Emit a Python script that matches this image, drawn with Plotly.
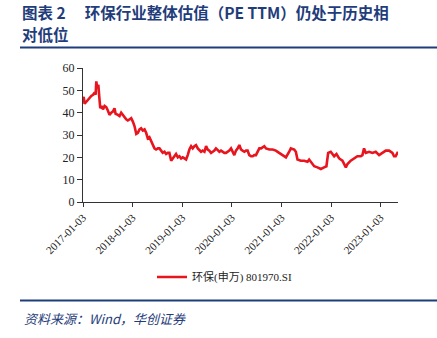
import plotly.graph_objects as go

dates = [
    "2017-01-03", "2017-01-08", "2017-01-15", "2017-01-28", "2017-02-09", "2017-02-21", "2017-03-05",
    "2017-03-18", "2017-03-30", "2017-04-06", "2017-04-11", "2017-04-18", "2017-04-26", "2017-05-03",
    "2017-05-10", "2017-05-20", "2017-05-30", "2017-06-11", "2017-06-23", "2017-07-05", "2017-07-17",
    "2017-07-30", "2017-08-11", "2017-08-23", "2017-08-31", "2017-09-17", "2017-09-29", "2017-10-11",
    "2017-10-23", "2017-11-05", "2017-11-17", "2017-11-29", "2017-12-11", "2017-12-24", "2018-01-05",
    "2018-01-17", "2018-01-30", "2018-02-11", "2018-02-23", "2018-03-07", "2018-03-19", "2018-04-01",
    "2018-04-13", "2018-04-25", "2018-05-07", "2018-05-20", "2018-06-01", "2018-06-13", "2018-06-25",
    "2018-07-08", "2018-07-20", "2018-08-01", "2018-08-13", "2018-08-26", "2018-09-07", "2018-09-19",
    "2018-10-01", "2018-10-14", "2018-10-26", "2018-11-07", "2018-11-19", "2018-12-02", "2018-12-14",
    "2018-12-26", "2019-01-07", "2019-01-20", "2019-02-01", "2019-02-13", "2019-02-25", "2019-03-10",
    "2019-03-22", "2019-04-03", "2019-04-15", "2019-04-28", "2019-05-10", "2019-05-22", "2019-06-03",
    "2019-06-16", "2019-06-28", "2019-07-10", "2019-07-22", "2019-08-04", "2019-08-16", "2019-08-28",
    "2019-09-09", "2019-09-22", "2019-10-04", "2019-10-16", "2019-10-28", "2019-11-10", "2019-11-22",
    "2019-12-04", "2019-12-16", "2019-12-29", "2020-01-10", "2020-01-22", "2020-02-03", "2020-02-16",
    "2020-02-28", "2020-03-11", "2020-03-23", "2020-04-05", "2020-04-17", "2020-04-29", "2020-05-11",
    "2020-05-24", "2020-06-05", "2020-06-17", "2020-06-29", "2020-07-12", "2020-07-24", "2020-08-06",
    "2020-08-30", "2020-09-11", "2020-10-06", "2020-10-30", "2020-11-23", "2020-12-17", "2021-01-11",
    "2021-02-05", "2021-03-01", "2021-03-13", "2021-04-07", "2021-04-19", "2021-05-01", "2021-05-26",
    "2021-06-19", "2021-07-14", "2021-07-26", "2021-08-15", "2021-09-01", "2021-09-25", "2021-10-20",
    "2021-11-13", "2021-11-30", "2021-12-13", "2022-01-01", "2022-01-26", "2022-02-12", "2022-03-04",
    "2022-03-28", "2022-04-22", "2022-05-04", "2022-05-28", "2022-06-22", "2022-07-16", "2022-08-10",
    "2022-08-22", "2022-09-03", "2022-09-16", "2022-10-10", "2022-11-04", "2022-11-28", "2022-12-23",
    "2023-01-16", "2023-02-10", "2023-03-06", "2023-03-31", "2023-04-12", "2023-04-24", "2023-05-11",
]
pe_ttm = [
    46.5, 47, 44, 45, 45.5, 46.5, 47.5,
    48, 49, 48, 54, 51, 52.5, 47,
    42, 43, 41.5, 43, 42.5, 41, 39,
    40, 40.5, 42, 39.5, 39, 38.5, 40,
    39, 38, 37, 36.5, 37, 37.5, 36,
    34, 30.5, 31, 32.5, 33, 32, 32.5,
    31, 28.5, 29, 27, 25, 24, 23.5,
    24, 24, 23, 22, 22.5, 21.5, 22,
    22, 18.5, 19.5, 21, 21.5, 20, 20.5,
    19.5, 20, 19.5, 19, 21, 23.5, 25,
    24, 25, 25.5, 24, 23, 22.5, 23,
    22.5, 25, 23.5, 23, 22, 22.5, 23,
    24, 23, 22.5, 23, 22.5, 22, 22,
    22.5, 23, 24, 22.5, 21, 23, 24,
    25.5, 23.5, 23, 22.5, 23, 23, 21,
    20.5, 20.5, 21, 21, 23, 24, 24,
    25, 24, 23.5, 23.5, 23, 22, 21,
    20, 22.5, 24, 23.5, 22.5, 19, 18.5,
    18.5, 18, 19, 17.5, 16, 15.5, 14.8,
    15.5, 16, 22, 22.5, 20.5, 21.5, 19.5,
    18.5, 15.5, 17, 18.5, 19.5, 20.5, 20.5,
    21, 24, 22, 22.5, 22, 22.5, 21,
    22, 23, 23, 22, 20.5, 20.5, 22.5,
]

tick_dates = ["2017-01-03", "2018-01-03", "2019-01-03", "2020-01-03",
              "2021-01-03", "2022-01-03", "2023-01-03"]
y_ticks = [0, 10, 20, 30, 40, 50, 60]

series_name = "环保(申万) 801970.SI"
title_line1 = "图表 2　 环保行业整体估值（PE TTM）仍处于历史相"
title_line2 = "对低位"
source_text = "资料来源：Wind，华创证券"

serif = "Liberation Serif, Times New Roman, Noto Sans CJK SC, serif"
cjk = "Noto Sans CJK SC, sans-serif"
navy = "#1f3d7a"

fig = go.Figure()
fig.add_trace(go.Scatter(
    x=dates, y=pe_ttm, mode="lines", name=series_name,
    line=dict(color="#e8141e", width=2.6),
))

W, H = 437, 338
L, R, T, B = 83, 39, 68, 136
pw = W - L - R
ph = H - T - B


def px(xp):
    return (xp - L) / pw


def py(yp):
    return (H - B - yp) / ph


fig.update_layout(
    width=W, height=H,
    margin=dict(l=L, r=R, t=T, b=B),
    paper_bgcolor="white", plot_bgcolor="white",
    showlegend=True,
    legend=dict(
        orientation="h", x=px(152), xanchor="left", y=py(277), yanchor="middle",
        font=dict(family=serif, size=11, color="#222"),
        bgcolor="rgba(0,0,0,0)", itemwidth=30,
    ),
    xaxis=dict(
        type="date", range=["2017-01-03", "2023-05-11"],
        tickvals=tick_dates, ticktext=tick_dates, tickangle=-45,
        ticks="outside", ticklen=4, tickcolor="#333",
        showline=True, linecolor="#333", linewidth=1,
        showgrid=False, zeroline=False,
        tickfont=dict(family=serif, size=11, color="#222"),
    ),
    yaxis=dict(
        range=[0, 60], tickvals=y_ticks,
        ticks="outside", ticklen=5, tickcolor="#333",
        showline=True, linecolor="#333", linewidth=1,
        showgrid=False, zeroline=False,
        tickfont=dict(family=serif, size=12, color="#222"),
    ),
)

fig.add_annotation(
    x=px(20), y=py(11.5), xref="paper", yref="paper", xanchor="left", yanchor="middle",
    text="<b>" + title_line1 + "</b>", showarrow=False,
    font=dict(family=cjk, size=15.5, color=navy),
)
fig.add_annotation(
    x=px(20), y=py(34), xref="paper", yref="paper", xanchor="left", yanchor="middle",
    text="<b>" + title_line2 + "</b>", showarrow=False,
    font=dict(family=cjk, size=15.5, color=navy),
)
fig.add_shape(type="line", xref="paper", yref="paper",
              x0=px(20), x1=px(437), y0=py(47.5), y1=py(47.5),
              line=dict(color=navy, width=2))
fig.add_shape(type="line", xref="paper", yref="paper",
              x0=px(20), x1=px(437), y0=py(300.5), y1=py(300.5),
              line=dict(color=navy, width=2))
fig.add_annotation(
    x=px(22), y=py(318), xref="paper", yref="paper", xanchor="left", yanchor="middle",
    text="<i>" + source_text + "</i>", showarrow=False,
    font=dict(family=cjk, size=13, color=navy),
)

fig.write_html("out.html")
